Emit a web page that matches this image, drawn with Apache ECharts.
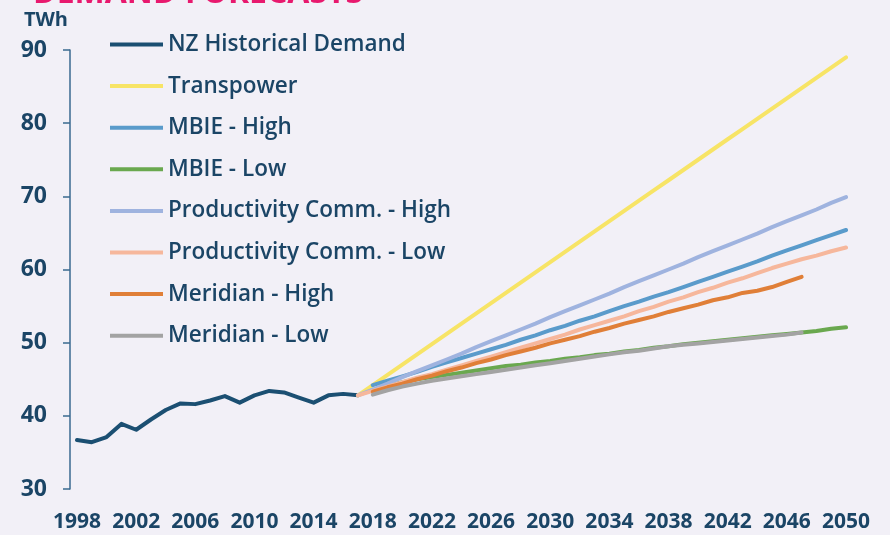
<!DOCTYPE html>
<html>
<head>
<meta charset="utf-8">
<script src="https://cdn.jsdelivr.net/npm/echarts@6/dist/echarts.min.js"></script>
<style>
html,body{margin:0;padding:0;background:#f2f0f7;}
#c{width:890px;height:535px;}
</style>
</head>
<body>
<div id="c"></div>
<script>
const years = ['1998','1999','2000','2001','2002','2003','2004','2005','2006','2007','2008','2009','2010','2011','2012','2013','2014','2015','2016','2017','2018','2019','2020','2021','2022','2023','2024','2025','2026','2027','2028','2029','2030','2031','2032','2033','2034','2035','2036','2037','2038','2039','2040','2041','2042','2043','2044','2045','2046','2047','2048','2049','2050'];
const yTicks = [30, 40, 50, 60, 70, 80, 90];

// NZ Historical Demand, 1998-2017
const historical = [36.7,36.4,37.1,38.9,38.1,39.5,40.8,41.7,41.6,42.1,42.7,41.8,42.8,43.4,43.2,42.5,41.8,42.8,43.0,42.8];
// Transpower, 2017-2050
const transpower = [42.8,44.2,45.6,47.0,48.4,49.8,51.2,52.6,54.0,55.4,56.8,58.2,59.6,61.0,62.4,63.8,65.2,66.6,68.0,69.4,70.8,72.2,73.6,75.0,76.4,77.8,79.2,80.6,82.0,83.4,84.8,86.2,87.6,89.0];
// MBIE - High, 2018-2050
const mbieHigh = [44.2,44.8,45.4,46.0,46.7,47.3,47.9,48.5,49.1,49.7,50.4,51.0,51.7,52.3,53.0,53.6,54.3,55.0,55.6,56.3,56.9,57.6,58.3,59.0,59.7,60.4,61.1,61.9,62.6,63.3,64.0,64.7,65.4];
// MBIE - Low, 2018-2050
const mbieLow = [43.4,44.1,44.6,45.0,45.3,45.6,45.9,46.2,46.5,46.8,47.0,47.3,47.5,47.8,48.0,48.3,48.5,48.8,49.0,49.3,49.5,49.8,50.0,50.2,50.4,50.6,50.8,51.0,51.2,51.4,51.6,51.9,52.1];
// Productivity Comm. - High, 2017-2050
const prodHigh = [42.8,43.6,44.4,45.3,46.1,46.9,47.7,48.5,49.4,50.2,51.0,51.8,52.6,53.5,54.3,55.1,55.9,56.7,57.6,58.4,59.2,60.0,60.8,61.7,62.5,63.3,64.1,64.9,65.8,66.6,67.4,68.2,69.1,69.9];
// Productivity Comm. - Low, 2017-2050
const prodLow = [42.8,43.4,44.0,44.6,45.2,45.7,46.3,46.9,47.5,48.1,48.7,49.3,49.9,50.5,51.1,51.8,52.4,53.0,53.6,54.3,54.9,55.6,56.2,56.9,57.5,58.2,58.8,59.5,60.2,60.8,61.4,61.9,62.5,63.0];
// Meridian - High, 2018-2047
const meridianHigh = [43.3,43.9,44.4,45.0,45.5,46.1,46.6,47.2,47.7,48.3,48.8,49.3,49.9,50.4,50.9,51.5,52.0,52.6,53.1,53.6,54.2,54.7,55.2,55.8,56.2,56.8,57.1,57.6,58.3,59.0];
// Meridian - Low, 2018-2047
const meridianLow = [42.9,43.5,44.0,44.4,44.8,45.1,45.4,45.7,46.0,46.3,46.6,46.9,47.2,47.5,47.8,48.1,48.4,48.7,48.9,49.2,49.5,49.7,49.9,50.1,50.3,50.5,50.7,50.9,51.1,51.4];

const seriesNames = ['NZ Historical Demand','Transpower','MBIE - High','MBIE - Low','Productivity Comm. - High','Productivity Comm. - Low','Meridian - High','Meridian - Low'];
const seriesStart = [1998, 2017, 2018, 2018, 2017, 2017, 2018, 2018];
const seriesValues = [historical, transpower, mbieHigh, mbieLow, prodHigh, prodLow, meridianHigh, meridianLow];
const colors = ['#1b4f72','#f7e466','#5a9bcb','#6aa84f','#9fb3df','#f6b79c','#e07f38','#a3a3a3'];

const textColor = '#1b4566';
const font = 'Open Sans';

const series = seriesNames.map((name, k) => ({
  name: name,
  type: 'line',
  data: seriesValues[k].map((v, i) => [String(seriesStart[k] + i), v]),
  showSymbol: false,
  symbol: 'none',
  lineStyle: { color: colors[k], width: 4, cap: 'round', join: 'round' },
  itemStyle: { color: colors[k] },
  emphasis: { disabled: true },
  animation: false
}));

const chart = echarts.init(document.getElementById('c'), null, { renderer: 'canvas' });
chart.setOption({
  backgroundColor: '#f2f0f7',
  animation: false,
  color: colors,
  title: {
    text: 'DEMAND FORECASTS',
    left: 28,
    top: -27,
    textStyle: { color: '#e8196e', fontSize: 32, fontWeight: 'bold', fontFamily: font }
  },
  grid: { left: 77, right: 44, top: 50, bottom: 46, containLabel: false },
  legend: {
    orient: 'vertical',
    left: 110,
    top: 33,
    padding: 0,
    icon: 'rect',
    itemWidth: 53,
    itemHeight: 4,
    itemGap: 18.6,
    data: seriesNames,
    textStyle: { color: textColor, fontSize: 22.5, fontWeight: 600, fontFamily: font, lineHeight: 22 }
  },
  xAxis: {
    type: 'category',
    data: years,
    boundaryGap: false,
    axisLine: { show: false },
    axisTick: { show: false },
    splitLine: { show: false },
    axisLabel: {
      interval: 3,
      margin: 23,
      color: textColor,
      fontSize: 21,
      fontWeight: 'bold',
      fontFamily: font
    }
  },
  yAxis: {
    type: 'value',
    min: yTicks[0],
    max: yTicks[yTicks.length - 1],
    interval: 10,
    offset: 7,
    name: 'TWh',
    nameLocation: 'end',
    nameGap: 30,
    nameTextStyle: { color: textColor, fontSize: 20, fontWeight: 'bold', fontFamily: font, align: 'right', verticalAlign: 'middle', padding: [0, 2, 0, 0] },
    axisLine: { show: true, lineStyle: { color: '#3a6a90', width: 1.5 } },
    axisTick: { show: true, length: 7, lineStyle: { color: '#3a6a90', width: 1.5 } },
    splitLine: { show: false },
    axisLabel: {
      margin: 23,
      color: textColor,
      fontSize: 23,
      fontWeight: 'bold',
      fontFamily: font
    }
  },
  series: series
});
</script>
</body>
</html>
